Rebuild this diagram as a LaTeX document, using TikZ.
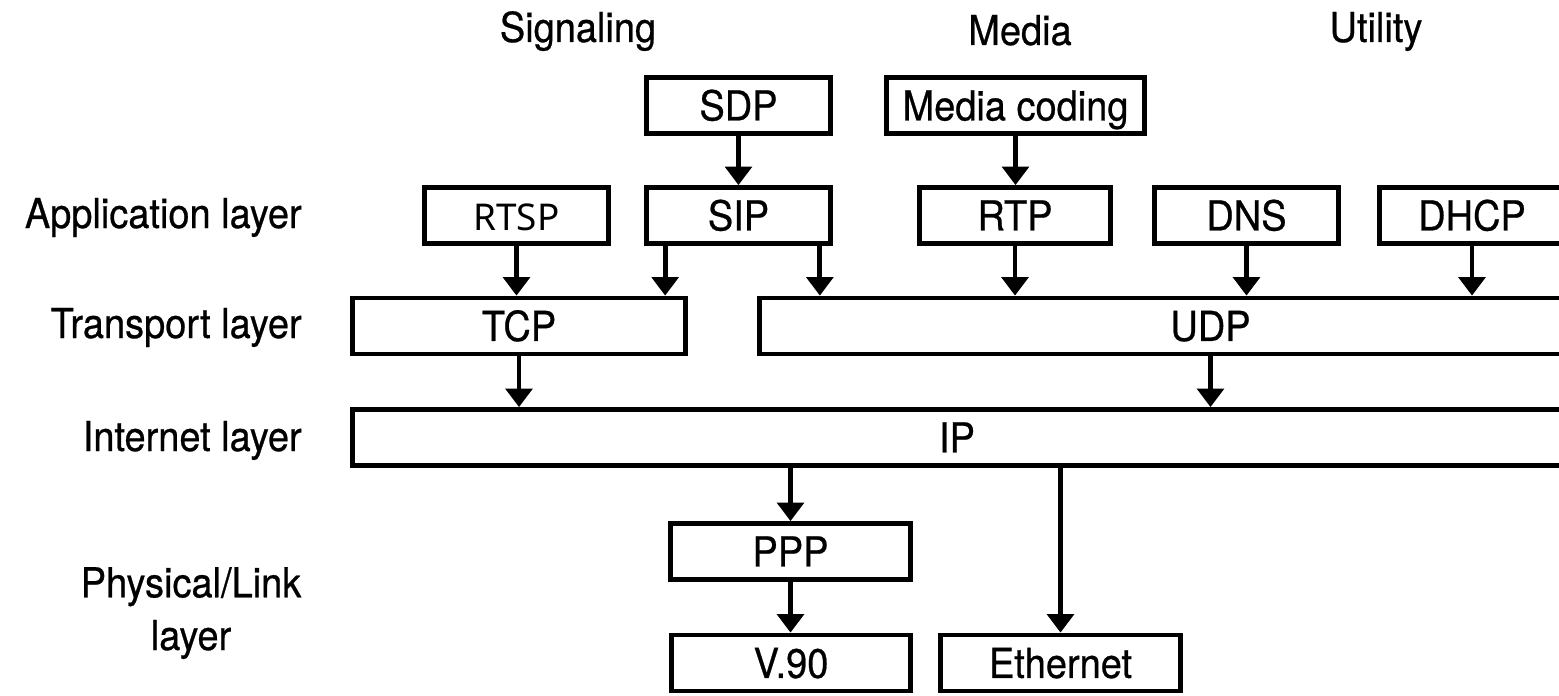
\documentclass[tikz,border=0pt]{standalone}
\usepackage{fontspec}
\setmainfont[FakeStretch=0.92, FakeBold=0.6]{TeX Gyre Heros}
\newfontfamily\rtspfont{Noto Sans}
\usetikzlibrary{arrows.meta}
\tikzset{
  box/.style={draw, line width=2.7pt, minimum height=1.12cm, inner sep=0pt,
    text height=17pt, text depth=0pt, font=\fontsize{23.5}{30}\selectfont},
  lbl/.style={inner sep=0pt, font=\fontsize{23.5}{30}\selectfont},
  arr/.style={line width=2.7pt, -{Triangle[width=15pt,length=10.5pt]}}
}
\begin{document}
\begin{tikzpicture}[x=0.02cm, y=-0.02cm]
    \useasboundingbox (0,0) rectangle (1559,696);
    \clip (0,0) rectangle (1559,696);

    % Column heads
    \node[lbl, anchor=base] (hsig) at (578,42) {Signaling};
    \node[lbl, anchor=base] (hmed) at (1020,45) {Media};
    \node[lbl, anchor=base] (hutl) at (1376,42) {Utility};

    % Layer names
    \node[lbl, anchor=base east] (lapp) at (302,228) {Application layer};
    \node[lbl, anchor=base east] (ltrn) at (302,338) {Transport layer};
    \node[lbl, anchor=base east] (lint) at (302,451) {Internet layer};
    \node[lbl, anchor=base, align=center] (lphy) at (191,650) {Physical/Link\\layer};

    % Protocol boxes
    \node[box, minimum width=3.68cm] (sdp) at (738.5,105.5) {SDP};
    \node[box, minimum width=5.16cm] (medc) at (1015.5,105.5) {Media coding};
    \node[box, minimum width=3.68cm, font=\rtspfont\fontsize{21}{26}\selectfont] (rtsp) at (516.5,215.5) {RTSP};
    \node[box, minimum width=3.68cm] (sip) at (738.5,215.5) {SIP};
    \node[box, minimum width=3.82cm] (rtp) at (1015,215.5) {RTP};
    \node[box, minimum width=3.68cm] (dns) at (1246.5,215.5) {DNS};
    \node[box, minimum width=3.70cm] (dhcp) at (1472,215.5) {DHCP};
    \node[box, minimum width=6.66cm] (tcp) at (519,326) {TCP};
    \node[box, minimum width=18.04cm] (udp) at (1210.5,326) {UDP};
    \node[box, minimum width=24.18cm] (ip) at (957,437.5) {IP};
    \node[box, minimum width=4.8cm] (ppp) at (790.5,551.5) {PPP};
    \node[box, minimum width=4.78cm] (v90) at (791,663) {V.90};
    \node[box, minimum width=4.8cm] (eth) at (1060.5,663) {Ethernet};

    % Arrows down the stack
    \coordinate (sipl) at ([xshift=0.42cm]sip.south west);
    \coordinate (sipr) at ([xshift=-0.26cm]sip.south east);
    \draw[arr] (sdp.south) -- (sip.north);
    \draw[arr] (medc.south) -- (medc.south |- rtp.north);
    \draw[arr] (rtsp.south) -- (rtsp.south |- tcp.north);
    \draw[arr] (sipl) -- (sipl |- tcp.north);
    \draw[arr] (sipr) -- (sipr |- udp.north);
    \foreach \n in {rtp,dns,dhcp} \draw[arr] (\n.south) -- (\n.south |- udp.north);
    \draw[arr] (tcp.south) -- (tcp.south |- ip.north);
    \draw[arr] (udp.south) -- (udp.south |- ip.north);
    \draw[arr] (ip.south -| ppp.north) -- (ppp.north);
    \draw[arr] (ppp.south) -- (ppp.south |- v90.north);
    \draw[arr] (ip.south -| eth.north) -- (eth.north);
\end{tikzpicture}
\end{document}
